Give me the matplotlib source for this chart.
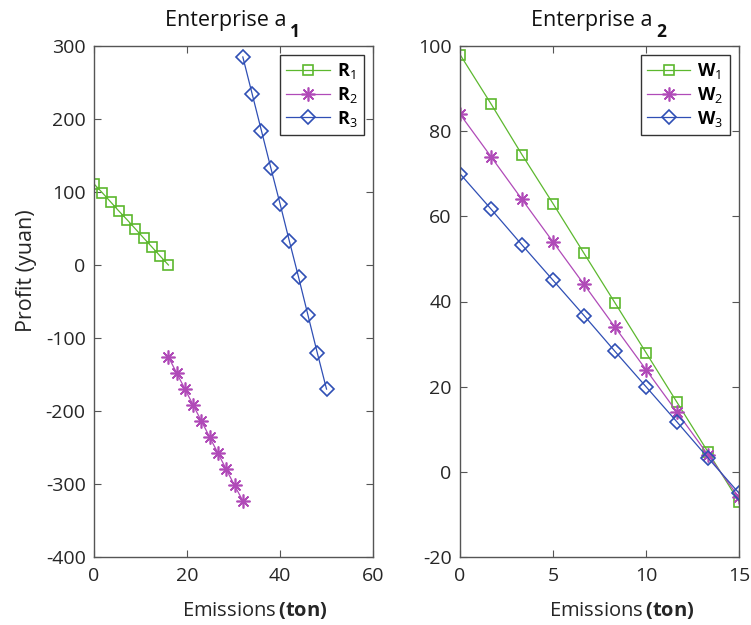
import matplotlib
matplotlib.use("Agg")
import matplotlib.pyplot as plt
import numpy as np

plt.rcParams['font.family'] = ['Open Sans', 'DejaVu Sans']
plt.rcParams['mathtext.fontset'] = 'custom'
plt.rcParams['mathtext.rm'] = 'Open Sans'
plt.rcParams['mathtext.it'] = 'Open Sans'
plt.rcParams['mathtext.bf'] = 'Open Sans:bold'
plt.rcParams['axes.unicode_minus'] = False

# Enterprise a1 data
r1_x = [0, 1.78, 3.56, 5.33, 7.11, 8.89, 10.67, 12.44, 14.22, 16]
r1_y = [111, 99, 86.5, 74, 62, 49.5, 37, 24.7, 12.3, 0]
r2_x = [16, 17.78, 19.56, 21.33, 23.11, 24.89, 26.67, 28.44, 30.22, 32]
r2_y = [-126, -148, -170, -192, -214, -236, -258, -280, -302, -323]
r3_x = [32, 34, 36, 38, 40, 42, 44, 46, 48, 50]
r3_y = [285, 234.5, 184, 133.5, 84, 33, -17, -68.5, -120, -170]

# Enterprise a2 data
w_x = [0, 1.67, 3.33, 5, 6.67, 8.33, 10, 11.67, 13.33, 15]
w1_y = [98, 86.4, 74.5, 63, 51.3, 39.7, 28, 16.3, 4.7, -7]
w2_y = [84, 74, 64, 54, 44, 34, 24, 14, 4, -6]
w3_y = [70, 61.7, 53.3, 45, 36.7, 28.3, 20, 11.7, 3.3, -5]

labels_r = ['R$_1$', 'R$_2$', 'R$_3$']
labels_w = ['W$_1$', 'W$_2$', 'W$_3$']
titles = ['Enterprise a', 'Enterprise a']
title_subs = ['1', '2']

green = '#5cb82e'
magenta = '#b04ab8'
blue = '#2f4fb5'
asterisk = (8, 2, 0)
txt = '#262626'

fig = plt.figure(figsize=(7.51, 6.25), dpi=100)
ax1 = fig.add_axes([0.1252, 0.1088, 0.3715, 0.8176])
ax2 = fig.add_axes([0.6125, 0.1088, 0.3715, 0.8176])

def style(ax):
    for s in ax.spines.values():
        s.set_color('#555555')
        s.set_linewidth(1.0)
    ax.tick_params(direction='in', top=True, right=True, length=5,
                   color='#555555', labelsize=14, labelcolor=txt)
    ax.tick_params(axis='x', pad=7)
    ax.tick_params(axis='y', pad=6)

def title(ax, main, sub):
    ax.text(0.69, 1.039, main, transform=ax.transAxes, ha='right',
            va='baseline', fontsize=15.5, color='#111111')
    ax.text(0.703, 1.018, sub, transform=ax.transAxes, ha='left',
            va='baseline', fontsize=12.5, fontweight='bold', color='#111111')

kw = dict(linewidth=0.9, markerfacecolor='none', markeredgewidth=1.2)
ax1.plot(r1_x, r1_y, color=green, marker='s', markersize=7, label=labels_r[0], **kw)
ax1.plot(r2_x, r2_y, color=magenta, marker=asterisk, markersize=10, label=labels_r[1], **kw)
ax1.plot(r3_x, r3_y, color=blue, marker='D', markersize=7.5, label=labels_r[2], **kw)
ax1.set_xlim(0, 60)
ax1.set_ylim(-400, 300)
ax1.set_xticks([0, 20, 40, 60])
ax1.set_yticks(np.arange(-400, 301, 100))
style(ax1)
title(ax1, titles[0], title_subs[0])
ax1.set_ylabel('Profit (yuan)', fontsize=15.5, color=txt)
ax1.yaxis.set_label_coords(-0.205, 0.56)
ax1.set_xlabel('Emissions$\\,\\mathbf{(ton)}$', fontsize=14.5, color=txt)
ax1.xaxis.set_label_coords(0.575, -0.085)

ax2.plot(w_x, w1_y, color=green, marker='s', markersize=7, label=labels_w[0], **kw)
ax2.plot(w_x, w2_y, color=magenta, marker=asterisk, markersize=10, label=labels_w[1], **kw)
ax2.plot(w_x, w3_y, color=blue, marker='D', markersize=7.5, label=labels_w[2], **kw)
ax2.set_xlim(0, 15)
ax2.set_ylim(-20, 100)
ax2.set_xticks([0, 5, 10, 15])
ax2.set_yticks(np.arange(-20, 101, 20))
style(ax2)
title(ax2, titles[1], title_subs[1])
ax2.set_xlabel('Emissions$\\,\\mathbf{(ton)}$', fontsize=14.5, color=txt)
ax2.xaxis.set_label_coords(0.58, -0.085)

for ax in (ax1, ax2):
    leg = ax.legend(loc='upper right', fancybox=False, framealpha=1,
                    edgecolor='#333333', handlelength=2.4,
                    borderaxespad=0.5, labelspacing=0.2, handletextpad=0.4,
                    borderpad=0.35, prop={'weight': 'bold', 'size': 13})
    leg.get_frame().set_linewidth(1.0)

fig.savefig('out.png', dpi=100, facecolor='white')
